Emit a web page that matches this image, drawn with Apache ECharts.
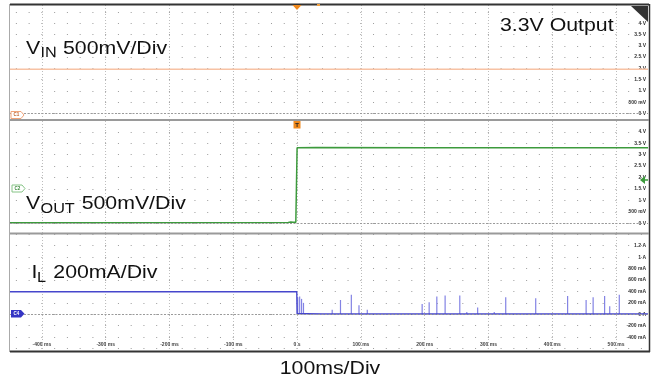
<!DOCTYPE html>
<html><head><meta charset="utf-8">
<script src="https://cdn.jsdelivr.net/npm/echarts@6/dist/echarts.min.js"></script>
<style>html,body{margin:0;padding:0;background:#fff}#c{width:656px;height:383px}</style>
</head><body><div id="c"></div><script>
// ---- data ----
const timeTicks = [-400,-300,-200,-100,0,100,200,300,400,500];
const timeLabels = ['-400 ms','-300 ms','-200 ms','-100 ms','0 s','100 ms','200 ms','300 ms','400 ms','500 ms'];
const voltRows = [0,0.5,1,1.5,2,2.5,3,3.5,4,4.5];
const voltLabelVals = [0,0.5,1,1.5,2,2.5,3,3.5,4];
const voltLabels = ['0 V','500 mV','1 V','1.5 V','2 V','2.5 V','3 V','3.5 V','4 V'];
const ampRows = [-0.6,-0.4,-0.2,0,0.2,0.4,0.6,0.8,1.0,1.2,1.4];
const ampLabelVals = [-0.4,-0.2,0,0.2,0.4,0.6,0.8,1.0,1.2];
const ampLabels = ['-400 mA','-200 mA','0 A','200 mA','400 mA','600 mA','800 mA','1 A','1.2 A'];

const vinTime = [-450, 550];
const vinVolt = [1.96, 1.96];
const voutTime = [-450, -14, -10, -6, -2, -0.4, 0, 30, 200, 400, 550];
const voutVolt = [0.03, 0.04, 0.06, 0.05, 0.05, 0.06, 3.3, 3.31, 3.3, 3.3, 3.3];
const ilTime = [-450, -0.5, 0, 15, 40, 550];
const ilAmp = [0.395, 0.395, 0.012, 0.01, 0.005, 0.005];
const spikeTime = [1, 4, 7, 10, 55, 68, 85, 97, 110, 196, 207, 219, 232, 255, 266, 283, 309, 327, 374, 424, 453, 464, 482, 490, 505];
const spikeAmp = [0.30, 0.31, 0.27, 0.20, 0.08, 0.25, 0.34, 0.16, 0.08, 0.18, 0.21, 0.31, 0.33, 0.33, 0.04, 0.12, 0.04, 0.30, 0.28, 0.32, 0.25, 0.30, 0.32, 0.14, 0.34];

const zip = (a, b) => a.map((v, i) => [v, b[i]]);
const lookup = (vals, labels) => v => { const i = vals.findIndex(x => Math.abs(x - v) < 1e-6); return i >= 0 ? labels[i] : ''; };

const chart = echarts.init(document.getElementById('c'), null, {renderer: 'canvas'});
const dotRow = {color: '#9c9c9c', width: 1, type: [1, 11.756], dashOffset: 6.88};

function xAxis(i) {
  return {
    type: 'value', gridIndex: i, min: -450, max: 550,
    axisLine: {show: false},
    axisTick: {show: false, customValues: timeTicks},
    axisLabel: {show: i === 2, inside: true, customValues: timeTicks, formatter: lookup(timeTicks, timeLabels),
      fontSize: 5, color: '#444', fontWeight: 'bold', margin: 4, fontFamily: 'Liberation Sans'},
    splitLine: {show: true, lineStyle: {color: '#bdbdbd', width: 1, type: [1, 2]}}
  };
}
function yAxis(i, min, max, rows, lv, ll) {
  return {
    type: 'value', gridIndex: i, min: min, max: max, position: 'right',
    axisLine: {show: false},
    axisTick: {show: false, customValues: rows},
    axisLabel: {show: true, inside: true, customValues: lv, formatter: lookup(lv, ll),
      fontSize: 5, color: '#333', fontWeight: 'bold', margin: 2, fontFamily: 'Liberation Sans'},
    splitLine: {show: true, lineStyle: dotRow}
  };
}
const zeroLine = () => ({
  silent: true, symbol: 'none', label: {show: false},
  lineStyle: {color: '#9a9a9a', width: 1, type: [2, 1.5]},
  data: [{yAxis: 0}]
});

const T = (text, x, y, size, align, extra) => Object.assign({
  type: 'text', x: x, y: y, scaleX: 1.12, z: 100,
  style: {text: text, fontSize: size, fontFamily: 'Liberation Sans', fill: '#111', align: align || 'left', verticalAlign: 'middle'}
}, extra || {});

chart.setOption({
  animation: false,
  backgroundColor: '#fff',
  grid: [
    {left: 10, right: 8, top: 5, height: 115},
    {left: 10, right: 8, top: 121, height: 112},
    {left: 10, right: 8, top: 234, height: 117}
  ],
  xAxis: [xAxis(0), xAxis(1), xAxis(2)],
  yAxis: [
    yAxis(0, -0.29, 4.81, voltRows, voltLabelVals, voltLabels),
    yAxis(1, -0.42, 4.47, voltRows, voltLabelVals, voltLabels),
    yAxis(2, -0.642, 1.405, ampRows, ampLabelVals, ampLabels)
  ],
  series: [
    {type: 'line', xAxisIndex: 0, yAxisIndex: 0, data: zip(vinTime, vinVolt), showSymbol: false,
      lineStyle: {color: '#f7c2a4', width: 1.3}, markLine: zeroLine(), z: 3},
    {type: 'line', xAxisIndex: 1, yAxisIndex: 1, data: zip(voutTime, voutVolt), showSymbol: false,
      lineStyle: {color: '#3c9a3c', width: 1.5}, markLine: zeroLine(), z: 3},
    {type: 'bar', xAxisIndex: 2, yAxisIndex: 2, data: zip(spikeTime, spikeAmp), barWidth: 1.2,
      itemStyle: {color: '#8383e4'}, z: 2},
    {type: 'line', xAxisIndex: 2, yAxisIndex: 2, data: zip(ilTime, ilAmp), showSymbol: false,
      lineStyle: {color: '#4646cc', width: 1.4}, markLine: zeroLine(), z: 3}
  ],
  graphic: [
    // frame
    {type: 'line', shape: {x1: 10, y1: 4.5, x2: 649, y2: 4.5}, style: {stroke: '#333', lineWidth: 2}, z: 50},
    {type: 'line', shape: {x1: 10, y1: 351.5, x2: 650, y2: 351.5}, style: {stroke: '#333', lineWidth: 2}, z: 50},
    {type: 'line', shape: {x1: 9.5, y1: 4, x2: 9.5, y2: 352}, style: {stroke: '#aaa', lineWidth: 1}, z: 50},
    {type: 'line', shape: {x1: 649.5, y1: 4, x2: 649.5, y2: 352}, style: {stroke: '#333', lineWidth: 1.5}, z: 50},
    {type: 'line', shape: {x1: 10, y1: 120, x2: 649, y2: 120}, style: {stroke: '#9a9a9a', lineWidth: 2}, z: 50},
    {type: 'line', shape: {x1: 10, y1: 233.5, x2: 649, y2: 233.5}, style: {stroke: '#9a9a9a', lineWidth: 2}, z: 50},
    // trigger markers
    {type: 'polygon', shape: {points: [[292.5, 5], [301.5, 5], [297, 10]]}, style: {fill: '#f0891c'}, z: 60},
    {type: 'rect', shape: {x: 317, y: 4, width: 3, height: 2}, style: {fill: '#f0a040'}, z: 60},
    {type: 'rect', shape: {x: 293.5, y: 121, width: 7, height: 7.5}, style: {fill: '#f0891c'}, z: 60},
    {type: 'text', x: 297, y: 125, z: 61, style: {text: 'T', fontSize: 6, fontWeight: 'bold', fontFamily: 'Liberation Sans', fill: '#222', align: 'center', verticalAlign: 'middle'}},
    // top-right corner triangle
    {type: 'polygon', shape: {points: [[631, 6], [648, 6], [648, 22]]}, style: {fill: '#333'}, z: 60},
    // green arrow
    {type: 'polygon', shape: {points: [[640, 180], [645, 176], [645, 184]]}, style: {fill: '#3c9a3c'}, z: 60},
    {type: 'line', shape: {x1: 644, y1: 180, x2: 648, y2: 180}, style: {stroke: '#3c9a3c', lineWidth: 1.5}, z: 60},
    // channel badges
    {type: 'polygon', shape: {points: [[11, 111.5], [21, 111.5], [24, 115], [21, 118.5], [11, 118.5]]}, style: {fill: '#fff', stroke: '#f1a47a', lineWidth: 1}, z: 60},
    {type: 'text', x: 16.5, y: 115, z: 61, style: {text: 'C1', fontSize: 4.5, fontWeight: 'bold', fontFamily: 'Liberation Sans', fill: '#c0602c', align: 'center', verticalAlign: 'middle'}},
    {type: 'polygon', shape: {points: [[12, 185], [22, 185], [25, 188.5], [22, 192], [12, 192]]}, style: {fill: '#fff', stroke: '#86c486', lineWidth: 1}, z: 60},
    {type: 'text', x: 17.5, y: 188.5, z: 61, style: {text: 'C2', fontSize: 4.5, fontWeight: 'bold', fontFamily: 'Liberation Sans', fill: '#3c8a3c', align: 'center', verticalAlign: 'middle'}},
    {type: 'polygon', shape: {points: [[11, 310], [21, 310], [24.5, 313.8], [21, 317.5], [11, 317.5]]}, style: {fill: '#3535c4'}, z: 60},
    {type: 'text', x: 16.5, y: 313.8, z: 61, style: {text: 'C4', fontSize: 4.5, fontWeight: 'bold', fontFamily: 'Liberation Sans', fill: '#fff', align: 'center', verticalAlign: 'middle'}},
    // annotations
    T('V', 26, 49, 19),
    T('IN', 40.5, 52.5, 14.5),
    T('500mV/Div', 63, 49, 19),
    T('3.3V Output', 500, 25.5, 19),
    T('V', 26, 204, 19),
    T('OUT', 40.5, 209, 14.5),
    T('500mV/Div', 81.7, 204, 19),
    T('I', 31.5, 272.5, 19),
    T('L', 37, 277.5, 14.5),
    T('200mA/Div', 53.3, 272.5, 19),
    T('100ms/Div', 330, 369, 19, 'center')
  ]
});
</script></body></html>
